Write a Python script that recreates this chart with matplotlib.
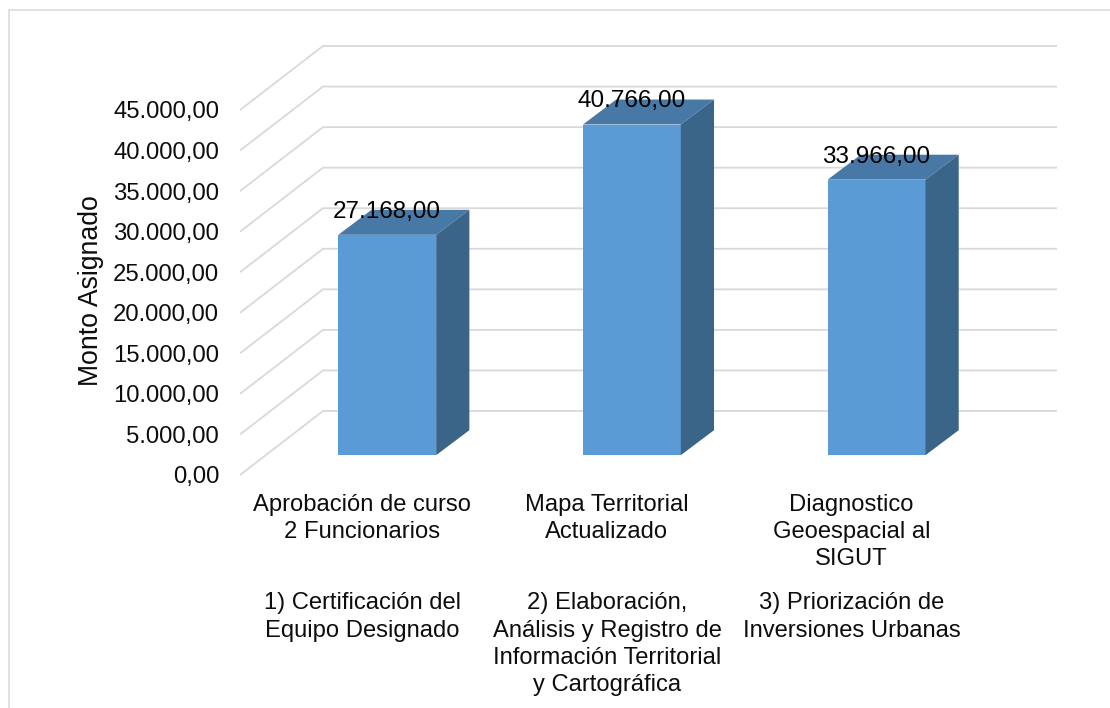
import matplotlib
matplotlib.use("Agg")
import matplotlib.pyplot as plt
from matplotlib.lines import Line2D

plt.rcParams['font.family'] = ['Liberation Sans', 'DejaVu Sans']

# ---- data ----
categories_top = ["Aprobación de curso\n2 Funcionarios",
                  "Mapa Territorial\nActualizado",
                  "Diagnostico\nGeoespacial al\nSIGUT"]
categories_bottom = ["1) Certificación del\nEquipo Designado",
                     "2) Elaboración,\nAnálisis y Registro de\nInformación Territorial\ny Cartográfica",
                     "3) Priorización de\nInversiones Urbanas"]
values = [27168.0, 40766.0, 33966.0]
value_labels = ["27.168,00", "40.766,00", "33.966,00"]
y_ticks = [0, 5000, 10000, 15000, 20000, 25000, 30000, 35000, 40000, 45000]
y_tick_labels = ["0,00", "5.000,00", "10.000,00", "15.000,00", "20.000,00",
                 "25.000,00", "30.000,00", "35.000,00", "40.000,00", "45.000,00"]
y_title = "Monto Asignado"

# ---- style ----
W, H = 1110, 708
FS = 17.1
TICK_FS = 17.2
VALUE_FS = 17.5
LINE_SP = 1.31
GRID = "#d9d9d9"
TEXT = "#0d0d0d"
FRONT, TOP, SIDE = "#5b9bd5", "#4878a6", "#3b6489"
px_left, px_right, px_bottom, px_top = 240, 974, 475, 110
xmin, xmax, ymin, ymax = -0.5, 2.5, 0, 45000
# oblique projection of the chart's depth, expressed in data units
depth_x = 83 / (px_right - px_left) * (xmax - xmin)
depth_y = 64 / (px_bottom - px_top) * (ymax - ymin)
bar_width = 0.4
start_x, start_y = 0.30, 0.31   # fractions of the full depth
span_x, span_y = 0.40, 0.39

fig = plt.figure(figsize=(W / 100, H / 100), dpi=100, facecolor="white")
fig.add_artist(Line2D([9 / W, 9 / W, 1], [0, 1 - 10 / H, 1 - 10 / H],
                      transform=fig.transFigure, color=GRID, lw=1.1))

ax = fig.add_axes([px_left / W, 1 - px_bottom / H,
                   (px_right - px_left) / W, (px_bottom - px_top) / H])
ax.set_xlim(xmin, xmax)
ax.set_ylim(ymin, ymax)
ax.patch.set_visible(False)
for s in ax.spines.values():
    s.set_visible(False)

# gridlines: diagonal on the side wall, horizontal on the back wall
for t in y_ticks:
    ax.plot([xmin, xmin + depth_x, xmax + depth_x],
            [t, t + depth_y, t + depth_y],
            color=GRID, lw=1.3, clip_on=False, zorder=1,
            solid_joinstyle="miter", solid_capstyle="butt")

# 3D bars
dx0, dy0 = start_x * depth_x, start_y * depth_y
dx1, dy1 = span_x * depth_x, span_y * depth_y
for i, v in enumerate(values):
    l = i + dx0 - bar_width / 2
    r = l + bar_width
    b = dy0
    t = v + dy0
    ax.bar(l, v, width=bar_width, bottom=b, align="edge", color=FRONT,
           clip_on=False, zorder=3, linewidth=0)
    ax.fill([l, r, r + dx1, l + dx1], [t, t, t + dy1, t + dy1],
            color=TOP, lw=0, clip_on=False, zorder=3)
    ax.fill([r, r + dx1, r + dx1, r], [b, b + dy1, t + dy1, t],
            color=SIDE, lw=0, clip_on=False, zorder=3)
    ax.annotate(value_labels[i], xy=(i + dx0, t + dy1), xytext=(-0.5, -1.4),
                textcoords="offset points", ha="center", va="center",
                fontsize=VALUE_FS, color="black", zorder=5, annotation_clip=False)

# axes text
ax.set_yticks(y_ticks, y_tick_labels, fontsize=TICK_FS, color=TEXT)
ax.tick_params(axis="y", length=0, pad=15)
ax.set_xticks(range(len(categories_top)), categories_top, fontsize=FS, color=TEXT)
ax.tick_params(axis="x", length=0, pad=13.5)
for lab in ax.get_xticklabels():
    lab.set_linespacing(LINE_SP)
ax.set_ylabel(y_title, fontsize=19.2, color=TEXT)
ax.yaxis.set_label_coords((104 - px_left) / (px_right - px_left), 0.504)

# second level of the category axis
for i, txt in enumerate(categories_bottom):
    ax.annotate(txt, xy=(i, 0), xycoords=("data", "axes fraction"),
                xytext=(0, -(592.5 - px_bottom) * 0.72), textcoords="offset points",
                ha="center", va="top", fontsize=FS, color=TEXT,
                linespacing=LINE_SP, annotation_clip=False)

fig.savefig("out.png", dpi=100, facecolor="white")
